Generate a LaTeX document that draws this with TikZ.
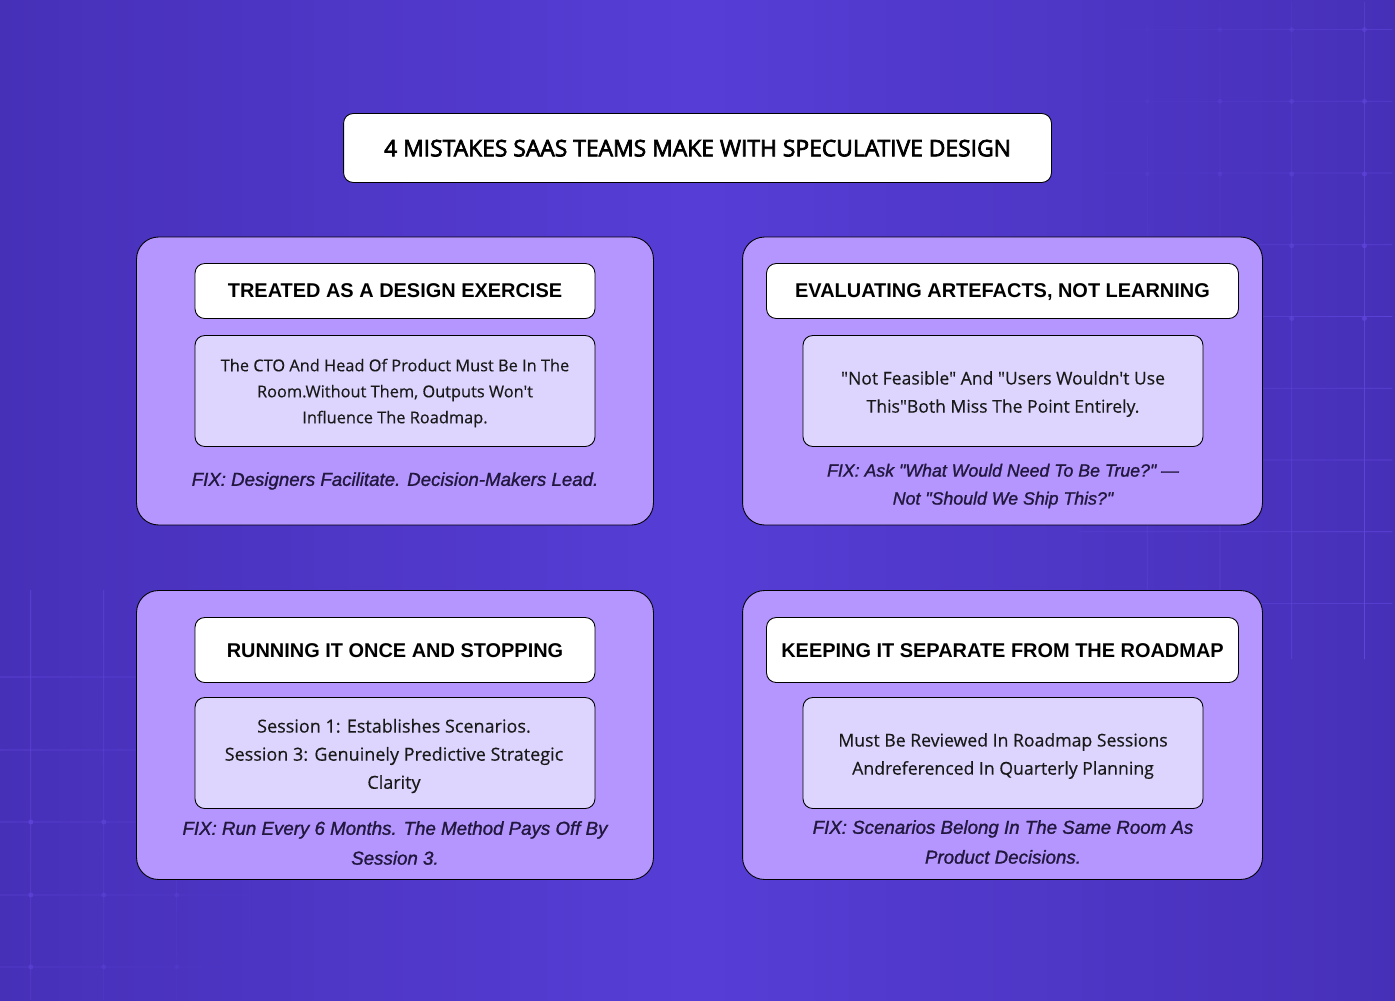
\documentclass[tikz,border=0pt]{standalone}
\usepackage{fontspec}
\setmainfont{Liberation Sans}
\newfontfamily\bodyfont[FakeBold=0.3]{Open Sans}
\newfontfamily\titlefont[FakeBold=3]{Open Sans}
\newfontfamily\notefont[FakeBold=1.2]{Liberation Sans}
\usetikzlibrary{fadings}

\definecolor{bgedge}{HTML}{4730B8}
\definecolor{bgmid}{HTML}{563DD6}
\definecolor{gridline}{HTML}{5F45DA}
\definecolor{panelfill}{HTML}{B496FE}
\definecolor{bodyfill}{HTML}{DDD5FE}
\definecolor{fixtext}{HTML}{21173F}

\tikzset{
  panel/.style={draw=black,fill=panelfill,rounded corners=12.5pt,line width=0.5pt,inner sep=0pt},
  titlebox/.style={draw=black,fill=white,rounded corners=5.5pt,line width=0.5pt,inner sep=0pt,text height=9.5pt,text depth=0pt},
  headbox/.style={draw=black,fill=white,rounded corners=5.5pt,line width=0.5pt,inner sep=0pt,text height=8.5pt,text depth=0.5pt,font=\fontsize{11.35}{15}\selectfont\bfseries},
  bodybox/.style={draw=black,fill=bodyfill,rounded corners=5.5pt,line width=0.5pt,inner sep=0pt,minimum width=8cm,minimum height=2.22cm},
  bodytext/.style={align=center,text=black!90,inner sep=0pt},
  fixnote/.style={align=center,text=fixtext,inner sep=0pt},
  gridx/.style={draw=gridline,line width=0.4pt},
  griddot/.style={fill=gridline}
}

\begin{document}
\begin{tikzpicture}[x=0.02cm,y=-0.02cm]

% Background and its faint grid
\shade[left color=bgedge,right color=bgedge,middle color=bgmid] (0,0) rectangle (1395,1000);
\useasboundingbox (0,0) rectangle (1395,1000);
\begin{scope}
  \path[scope fading=west,fading angle=-40] (1020,-20) rectangle (1395,720);
  \foreach \y in {28,100,...,608}
    \draw[gridx] (1080,\y) -- (1395,\y);
  \foreach \x in {1149,1222,1294,1367}
    \draw[gridx] (\x,0) -- (\x,660);
  \foreach \x in {1149,1222,1294,1367}
    \foreach \y in {28,100,173,245,318}
      \fill[griddot] (\x,\y) circle (2.5);
\end{scope}
\begin{scope}
  \path[scope fading=east,fading angle=-40] (0,590) rectangle (340,1000);
  \foreach \y in {677,750,822,895,967}
    \draw[gridx] (0,\y) -- (340,\y);
  \foreach \x in {31,104,177,250}
    \draw[gridx] (\x,590) -- (\x,1000);
  \foreach \x in {31,104,177}
    \foreach \y in {822,895,967}
      \fill[griddot] (\x,\y) circle (2.5);
\end{scope}

% Title
\node[titlebox,minimum width=14.16cm,minimum height=1.38cm,font=\titlefont\fontsize{13}{16}\selectfont] (title) at (697.5,148)
  {4 MISTAKES SAAS TEAMS MAKE WITH SPECULATIVE DESIGN};

% Panels
\node[panel,minimum width=10.34cm,minimum height=5.76cm] (p1) at (395,381) {};
\node[panel,minimum width=10.40cm,minimum height=5.76cm] (p2) at (1002.5,381) {};
\node[panel,minimum width=10.34cm,minimum height=5.78cm] (p3) at (395,735) {};
\node[panel,minimum width=10.40cm,minimum height=5.78cm] (p4) at (1002.5,735) {};

% Headings
\node[headbox,text depth=1.5pt,minimum width=8cm,minimum height=1.10cm] (h1) at (395,291) {TREATED AS A DESIGN EXERCISE};
\node[headbox,text depth=1.5pt,minimum width=9.44cm,minimum height=1.10cm] (h2) at (1002.5,291) {EVALUATING ARTEFACTS, NOT LEARNING};
\node[headbox,minimum width=8cm,minimum height=1.30cm] (h3) at (395,650) {RUNNING IT ONCE AND STOPPING};
\node[headbox,minimum width=9.44cm,minimum height=1.30cm] (h4) at (1002.5,650) {KEEPING IT SEPARATE FROM THE ROADMAP};

% Body boxes
\node[bodybox] (b1) at (395,391) {};
\node[bodybox] (b2) at (1003,391) {};
\node[bodybox] (b3) at (395,753) {};
\node[bodybox] (b4) at (1003,753) {};

% Body texts
\node[bodytext,font=\bodyfont\fontsize{9.32}{14.8}\selectfont] (t1) at (395,393)
  {The CTO And Head Of Product Must Be In The\\Room.Without Them, Outputs Won't\\Influence The Roadmap.};
\node[bodytext,font=\bodyfont\fontsize{10}{16}\selectfont] (t2) at (1003,394)
  {"Not Feasible" And "Users Wouldn't Use\\This"Both Miss The Point Entirely.};
\node[bodytext,font=\bodyfont\fontsize{10.25}{16}\selectfont] (t3) at (394,756)
  {Session 1: Establishes Scenarios.\\Session 3: Genuinely Predictive Strategic\\Clarity};
\node[bodytext,font=\bodyfont\fontsize{10.05}{16}\selectfont] (t4) at (1003,756)
  {Must Be Reviewed In Roadmap Sessions\\Andreferenced In Quarterly Planning};

% Fix notes
\node[fixnote,font=\notefont\itshape\fontsize{10.63}{16.4}\selectfont] (f1) at (395,481) {FIX: Designers Facilitate. Decision-Makers Lead.};
\node[fixnote,font=\notefont\itshape\fontsize{10.1}{15.9}\selectfont] (f2) at (1003,486) {FIX: Ask "What Would Need To Be True?" —\\Not "Should We Ship This?"};
\node[fixnote,font=\notefont\itshape\fontsize{10.65}{17}\selectfont] (f3) at (395,843) {FIX: Run Every 6 Months. The Method Pays Off By\\Session 3.};
\node[fixnote,font=\notefont\itshape\fontsize{10.65}{17}\selectfont] (f4) at (1003,842) {FIX: Scenarios Belong In The Same Room As\\Product Decisions.};

\end{tikzpicture}
\end{document}
